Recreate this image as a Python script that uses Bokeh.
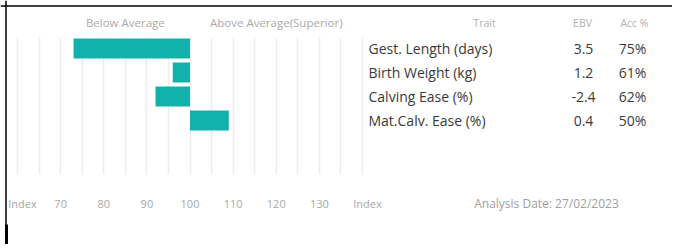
from bokeh.plotting import figure
from bokeh.models import Range1d, FixedTicker, Grid, ColumnDataSource, Span
from bokeh.core.properties import value
from bokeh.embed import file_html
from bokeh.resources import INLINE

# ---- data ----
traits = ["Gest. Length (days)", "Birth Weight (kg)", "Calving Ease (%)", "Mat.Calv. Ease (%)"]
ebv = ["3.5", "1.2", "-2.4", "0.4"]
acc = ["75%", "61%", "62%", "50%"]
index_vals = [73, 96, 92, 109]
average = 100
tick_vals = [60, 70, 80, 90, 100, 110, 120, 130, 140]
tick_labels = ["Index", "70", "80", "90", "100", "110", "120", "130", "Index"]
grid_vals = list(range(60, 145, 5))
side_labels = ["Below Average", "Above Average(Superior)"]
side_pos = [85, 120]
headers = ["Trait", "EBV", "Acc %"]
analysis_date = "Analysis Date: 27/02/2023"

# ---- layout constants ----
W, H = 672, 244
PX = 4.3125             # px per index unit
X0 = 60 - 17 / PX       # index value at canvas left
ROW0, PITCH = 48, 24    # px of first row centre, row pitch
def yrow(px):
    return (px - ROW0) / PITCH

FONT = value("Open Sans")
TEAL = "#13b1ab"

rows = list(range(len(traits)))

p = figure(width=W, height=H, output_backend="svg", toolbar_location=None,
           x_range=Range1d(X0, X0 + W / PX), y_range=Range1d(yrow(H), yrow(0)),
           x_axis_location=None, y_axis_location=None, min_border=0,
           outline_line_color=None, background_fill_color="white",
           border_fill_color="white", tools="")
p.grid.visible = False
p.extra_x_ranges = {"tbl": Range1d(0, W)}

grid = Grid(dimension=0, ticker=FixedTicker(ticks=grid_vals),
            cross_bounds=(-0.45, yrow(174)),
            grid_line_color="#ededed", grid_line_width=1.5)
p.add_layout(grid, "center")

bars = ColumnDataSource(dict(
    y=rows,
    left=[min(v, average) for v in index_vals],
    right=[max(v, average) for v in index_vals],
))
p.hbar(y="y", left="left", right="right", height=0.83, source=bars,
       fill_color=TEAL, line_color=None)

# header above bars
p.text(x=side_pos, y=[yrow(22)] * 2, text=side_labels, text_font=FONT,
       text_font_size="11.5px", text_color="#aaaaaa", text_align="center",
       text_baseline="middle")

# x tick labels
ticks = ColumnDataSource(dict(
    x=tick_vals, y=[yrow(203)] * len(tick_vals), text=tick_labels,
    off=[5 if t == "Index" else 0 for t in tick_labels],
))
p.text(x="x", y="y", text="text", x_offset="off", source=ticks, text_font=FONT,
       text_font_size="11px", text_color="#a8a8a8", text_align="center",
       text_baseline="middle")

# table
p.text(x=[484, 582, 634], y=[yrow(22)] * 3, text=headers, text_font=FONT,
       text_font_size="10.5px", text_color="#b0b0b0", text_align="center",
       text_baseline="middle", x_range_name="tbl")
p.text(x=[368] * len(traits), y=rows, text=traits, text_font=FONT,
       text_font_size="14px", text_color="#3a3a3a", text_align="left",
       text_baseline="middle", x_range_name="tbl")
p.text(x=[583] * len(ebv), y=rows, text=ebv, text_font=FONT,
       text_font_size="14px", text_color="#3a3a3a", text_align="center",
       text_baseline="middle", x_range_name="tbl")
p.text(x=[632] * len(acc), y=rows, text=acc, text_font=FONT,
       text_font_size="14px", text_color="#3a3a3a", text_align="center",
       text_baseline="middle", x_range_name="tbl")

p.text(x=[546], y=[yrow(203)], text=[analysis_date], text_font=FONT,
       text_font_size="12px", text_color="#a0a0a0", text_align="center",
       text_baseline="middle", x_range_name="tbl")

# black frame lines on top and left
p.add_layout(Span(location=yrow(5.5), dimension="width", line_color="black", line_width=1.5))
p.add_layout(Span(location=X0 + 5.5 / PX, dimension="height", line_color="black", line_width=1.5))
p.segment(x0=[X0 + 6 / PX], y0=[yrow(224)], x1=[X0 + 6 / PX], y1=[yrow(H)],
          line_color="black", line_width=3)

open("out.html", "w").write(file_html(p, INLINE))
